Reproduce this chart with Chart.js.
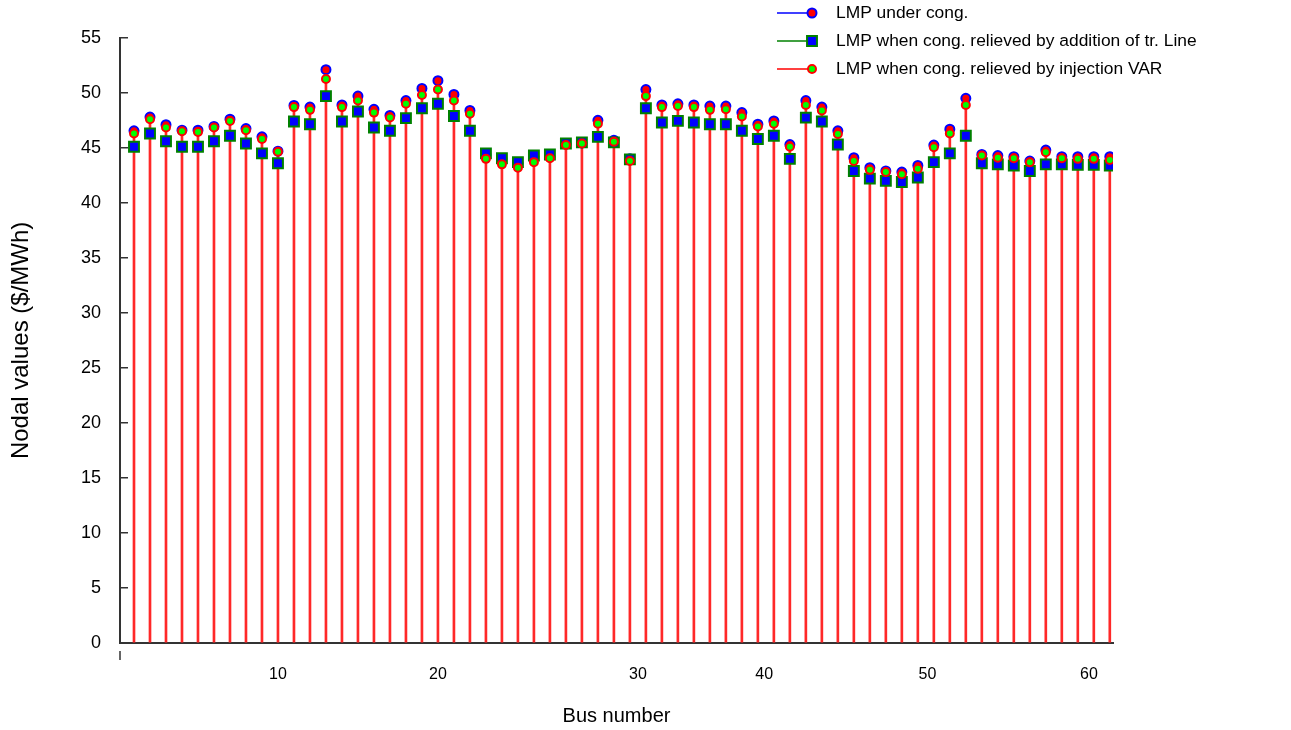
<!DOCTYPE html>
<html>
<head>
<meta charset="utf-8">
<script src="https://cdn.jsdelivr.net/npm/chart.js@4.4.0/dist/chart.umd.min.js"></script>
<style>
html, body { margin: 0; padding: 0; background: #fff; }
#wrap { width: 1291px; height: 730px; }
</style>
</head>
<body>
<div id="wrap"><canvas id="myChart" width="1291" height="730"></canvas></div>
<script>
// bus numbers (x)
var buses = [1, 2, 3, 4, 5, 6, 7, 8, 9, 10, 11, 12, 13, 14, 15, 16, 17, 18, 19, 20,
             21, 22, 23, 24, 25, 26, 27, 28, 29, 30, 31, 32, 33, 34, 35, 36, 37, 38, 39, 40,
             41, 42, 43, 44, 45, 46, 47, 48, 49, 50, 51, 52, 53, 54, 55, 56, 57, 58, 59, 60,
             61, 62];

// LMP under congestion
var lmpCong = [46.55, 47.8, 47.1, 46.6, 46.6, 46.95, 47.6, 46.75, 46.0, 44.7,
               48.85, 48.7, 52.1, 48.9, 49.7, 48.5, 47.95, 49.3, 50.4, 51.1,
               49.85, 48.4, 44.4, 44.0, 43.6, 44.2, 44.2, 45.35, 45.45, 47.5,
               45.7, 44.0, 50.3, 48.9, 49.0, 48.9, 48.8, 48.8, 48.2, 47.15,
               47.45, 45.3, 49.3, 48.7, 46.55, 44.1, 43.2, 42.9, 42.8, 43.4,
               45.25, 46.7, 49.5, 44.4, 44.3, 44.2, 43.8, 44.8, 44.2, 44.2,
               44.2, 44.2];

// LMP when congestion relieved by addition of tr. line
var lmpLine = [45.1, 46.3, 45.6, 45.1, 45.1, 45.6, 46.1, 45.4, 44.5, 43.6,
               47.4, 47.15, 49.7, 47.4, 48.3, 46.85, 46.55, 47.7, 48.6, 49.0,
               47.9, 46.55, 44.5, 44.05, 43.7, 44.3, 44.4, 45.4, 45.5, 46.0,
               45.5, 43.95, 48.6, 47.3, 47.45, 47.3, 47.15, 47.15, 46.55, 45.8,
               46.1, 44.0, 47.75, 47.4, 45.3, 42.9, 42.2, 42.0, 41.9, 42.3,
               43.7, 44.5, 46.1, 43.6, 43.5, 43.4, 42.9, 43.5, 43.5, 43.45,
               43.45, 43.4];

// LMP when congestion relieved by VAR injection
var lmpVar = [46.3, 47.6, 46.85, 46.5, 46.45, 46.85, 47.45, 46.6, 45.8, 44.65,
              48.7, 48.45, 51.25, 48.7, 49.3, 48.2, 47.75, 49.0, 49.8, 50.3,
              49.3, 48.1, 44.0, 43.5, 43.2, 43.7, 44.05, 45.25, 45.4, 47.2,
              45.55, 43.8, 49.7, 48.7, 48.8, 48.7, 48.45, 48.5, 47.85, 46.95,
              47.2, 45.1, 48.9, 48.4, 46.25, 43.8, 43.0, 42.8, 42.6, 43.1,
              45.05, 46.3, 48.9, 44.3, 44.1, 44.05, 43.7, 44.6, 44.05, 44.0,
              44.0, 43.9];

// x tick labels and where they sit on the bus axis (as placed in the figure)
var xTickLabels = ['10', '20', '30', '40', '50', '60'];
var xTickAt = [10, 20, 32.5, 40.4, 50.6, 60.7];

function pts(arr) {
    return buses.map(function(b, i) { return { x: b, y: arr[i] }; });
}

// draws the legend (line + marker + text) in the upper right corner
var stemLegend = {
    id: 'stemLegend',
    afterDraw: function(chart) {
        var ctx = chart.ctx;
        var rowY = [13, 41, 69];
        ctx.save();
        // small tick under the left end of the x axis
        var xs = chart.scales.x;
        ctx.strokeStyle = '#333';
        ctx.lineWidth = 1.5;
        ctx.beginPath();
        ctx.moveTo(xs.left, xs.top + 8);
        ctx.lineTo(xs.left, xs.top + 17);
        ctx.stroke();

        var row = 0;
        chart.data.datasets.forEach(function(ds) {
            if (!ds.legendColor) return;
            var y = rowY[row++];
            ctx.strokeStyle = ds.legendColor;
            ctx.lineWidth = 1.5;
            ctx.beginPath();
            ctx.moveTo(777, y);
            ctx.lineTo(812, y);
            ctx.stroke();
            ctx.fillStyle = ds.pointBackgroundColor;
            ctx.strokeStyle = ds.pointBorderColor;
            ctx.lineWidth = ds.pointBorderWidth;
            Chart.helpers.drawPoint(ctx, {
                pointStyle: ds.pointStyle,
                radius: ds.pointRadius,
                rotation: 0,
                borderWidth: ds.pointBorderWidth
            }, 812, y);
            ctx.fillStyle = '#000';
            ctx.font = '17.4px "Liberation Sans", Arial, sans-serif';
            ctx.textBaseline = 'middle';
            ctx.textAlign = 'left';
            ctx.fillText(ds.label, 836, y);
        });
        ctx.restore();
    }
};

var ctx = document.getElementById('myChart').getContext('2d');
var myChart = new Chart(ctx, {
    type: 'scatter',
    data: {
        datasets: [{
            type: 'bar',
            label: 'stems',
            data: pts(lmpCong),
            backgroundColor: '#ff2828',
            barThickness: 2,
            grouped: false,
            order: 4
        }, {
            label: 'LMP under cong.',
            data: pts(lmpCong),
            showLine: false,
            pointStyle: 'circle',
            pointRadius: 4.5,
            pointBorderWidth: 2,
            pointBackgroundColor: '#ff0000',
            pointBorderColor: '#0000ff',
            legendColor: '#0000ff',
            order: 3
        }, {
            label: 'LMP when cong. relieved by addition of tr. Line',
            data: pts(lmpLine),
            showLine: false,
            pointStyle: 'rect',
            pointRadius: 7,
            pointBorderWidth: 2,
            pointBackgroundColor: '#0000ff',
            pointBorderColor: '#008000',
            legendColor: '#008000',
            order: 2
        }, {
            label: 'LMP when cong. relieved by injection VAR',
            data: pts(lmpVar),
            showLine: false,
            pointStyle: 'circle',
            pointRadius: 4,
            pointBorderWidth: 2,
            pointBackgroundColor: '#00ff00',
            pointBorderColor: '#ff0000',
            legendColor: '#ff0000',
            order: 1
        }]
    },
    options: {
        responsive: false,
        animation: false,
        events: [],
        layout: { padding: { top: 37, right: 178, left: 0, bottom: 0 } },
        plugins: {
            legend: { display: false },
            tooltip: { enabled: false }
        },
        scales: {
            x: {
                type: 'linear',
                min: 0.125,
                max: 62.2,
                offset: false,
                grid: { display: false, offset: false },
                border: { display: true, color: '#333', width: 2 },
                afterBuildTicks: function(scale) {
                    scale.ticks = xTickAt.map(function(v) { return { value: v }; });
                },
                afterFit: function(scale) { scale.height = 87; },
                ticks: {
                    autoSkip: false,
                    maxRotation: 0,
                    padding: 14,
                    color: '#000',
                    font: { family: '"Liberation Sans", Arial, sans-serif', size: 16 },
                    callback: function(value, index) { return xTickLabels[index]; }
                },
                title: {
                    display: true,
                    text: 'Bus number',
                    color: '#000',
                    padding: { top: 0, bottom: 2 },
                    font: { family: '"Liberation Sans", Arial, sans-serif', size: 20 }
                }
            },
            y: {
                min: 0,
                max: 55,
                grid: {
                    display: true,
                    drawOnChartArea: false,
                    drawTicks: true,
                    tickLength: -8,
                    color: '#333',
                    lineWidth: 1.5
                },
                border: { display: true, color: '#333', width: 2 },
                afterFit: function(scale) { scale.width = 120; },
                ticks: {
                    stepSize: 5,
                    padding: 27,
                    color: '#000',
                    font: { family: '"Liberation Sans", Arial, sans-serif', size: 18 }
                },
                title: {
                    display: true,
                    text: 'Nodal values ($/MWh)',
                    color: '#000',
                    padding: { top: 7, bottom: 0 },
                    font: { family: '"Liberation Sans", Arial, sans-serif', size: 24 }
                }
            }
        }
    },
    plugins: [stemLegend]
});
</script>
</body>
</html>
